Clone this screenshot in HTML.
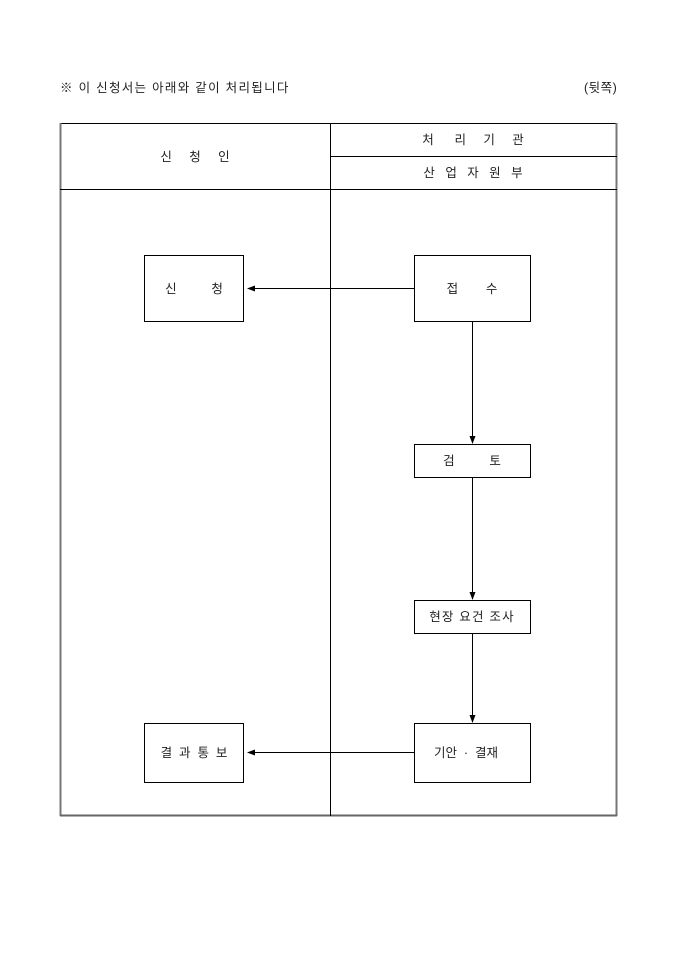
<!DOCTYPE html>
<html><head><meta charset="utf-8"><style>
html,body{margin:0;padding:0;background:#fff;}
svg{display:block;}
text{font-family:"Liberation Sans","Noto Sans CJK KR","NanumGothic",sans-serif;font-size:12.5px;fill:#222;}
</style></head><body>
<svg width="680" height="962" viewBox="0 0 680 962" xmlns="http://www.w3.org/2000/svg">
<defs><marker id="a" markerWidth="8" markerHeight="8" refX="7" refY="4" orient="auto" markerUnits="userSpaceOnUse"><path d="M0,1 L8,4 L0,7 Z" fill="#000"/></marker></defs>
<text x="60" y="92" letter-spacing="1.3">※ 이 신청서는 아래와 같이 처리됩니다</text>
<text x="584" y="92" letter-spacing="0.5">(뒷쪽)</text>
<g fill="none" stroke="#000" stroke-width="1">
<line x1="60" y1="123.5" x2="617" y2="123.5"/>
<line x1="60.5" y1="123" x2="60.5" y2="816" stroke="#777" stroke-width="2"/>
<line x1="616.5" y1="123" x2="616.5" y2="816" stroke="#777" stroke-width="2"/>
<line x1="60" y1="815.5" x2="617" y2="815.5" stroke="#666" stroke-width="2"/>
<line x1="330.5" y1="123" x2="330.5" y2="816"/>
<line x1="330" y1="156.5" x2="617" y2="156.5"/>
<line x1="60" y1="189.5" x2="617" y2="189.5"/>
<rect x="144.5" y="255.5" width="99" height="66"/>
<rect x="414.5" y="255.5" width="116" height="66"/>
<rect x="414.5" y="444.5" width="116" height="33"/>
<rect x="414.5" y="600.5" width="116" height="33"/>
<rect x="414.5" y="723.5" width="116" height="59"/>
<rect x="144.5" y="723.5" width="99" height="59"/>
<line x1="414" y1="288.5" x2="248" y2="288.5" marker-end="url(#a)"/>
<line x1="414" y1="752.5" x2="248" y2="752.5" marker-end="url(#a)"/>
<line x1="472.5" y1="322" x2="472.5" y2="443" marker-end="url(#a)"/>
<line x1="472.5" y1="478" x2="472.5" y2="599" marker-end="url(#a)"/>
<line x1="472.5" y1="634" x2="472.5" y2="722" marker-end="url(#a)"/>
</g>
<g text-anchor="middle">
<text x="195" y="161" xml:space="preserve">신     청     인</text>
<text x="473" y="144" xml:space="preserve">처      리     기     관</text>
<text x="473" y="177" xml:space="preserve">산   업   자   원   부</text>
<text x="194" y="293" xml:space="preserve">신          청</text>
<text x="472" y="293" xml:space="preserve">접        수</text>
<text x="472" y="465" xml:space="preserve">검          토</text>
<text x="472" y="621" letter-spacing="1.2">현장 요건 조사</text>
<text x="466" y="757" xml:space="preserve">기안  ·  결재</text>
<text x="194" y="757" xml:space="preserve">결  과  통  보</text>
</g>
</svg>
</body></html>
